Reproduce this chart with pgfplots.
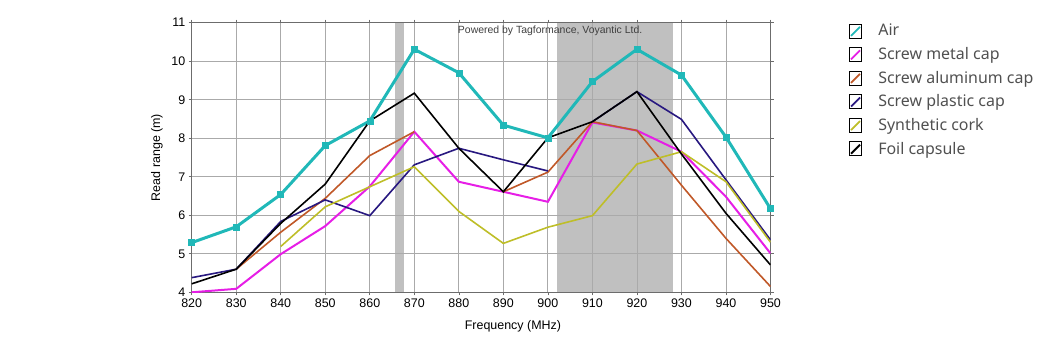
\documentclass[border=0pt]{standalone}
\usepackage{fontspec}
\setmainfont{Liberation Sans}
\newfontfamily\legfont{Noto Sans}
\usepackage{pgfplots}
\pgfplotsset{compat=1.18}
\definecolor{cAir}{RGB}{32,184,184}
\definecolor{cMetal}{RGB}{230,30,230}
\definecolor{cAlu}{RGB}{192,88,40}
\definecolor{cPlastic}{RGB}{40,24,128}
\definecolor{cCork}{RGB}{190,190,40}
\definecolor{cBand}{RGB}{192,192,192}
\definecolor{cGrid}{RGB}{170,170,170}
\definecolor{cText}{RGB}{80,80,80}
\begin{document}
\begin{tikzpicture}
\begin{axis}[name=ax, set layers, scale only axis,
  width=578.8bp, height=269.6bp,
  xmin=820, xmax=950, ymin=4, ymax=11,
  xtick={820,830,...,950}, ytick={4,5,...,11},
  grid=major, grid style={color=cGrid, line width=0.8bp},
  axis line style={color=gray!85!black, line width=0.8bp},
  tick align=outside, major tick length=3bp,
  tick style={color=gray!85!black, line width=0.6bp},
  /pgf/number format/assume math mode=true,
  /pgf/number format/set thousands separator={},
  ticklabel style={font=\fontsize{12.5}{14}\selectfont, text=black},
  xlabel={Frequency (MHz)}, ylabel={Read range (m)},
  label style={font=\fontsize{12.5}{14}\selectfont},
  xlabel style={at={(axis description cs:0.555,-0.092)}, anchor=north},
  ylabel style={at={(axis description cs:-0.06,0.5)}, anchor=center, rotate=0},
  unbounded coords=jump,
  legend style={at={(1.1305,1.008)}, anchor=north west, draw=none, fill=none,
    font=\legfont\fontsize{16}{18}\selectfont, text=cText,
    row sep=7bp, cells={anchor=west}, nodes={inner sep=1.5bp}},
  legend image code/.code={
    \draw[line width=1.8bp] (1.5bp,-5bp) -- (10.5bp,4bp);
    \draw[black, line width=0.6bp, solid] (0bp,-7bp) rectangle (12bp,7bp);
  },
  /tikz/every odd column/.style={column sep=15bp},
]
\addplot[fill=cBand, draw=none, on layer=axis background, forget plot]
  coordinates {(865.6,4) (867.6,4) (867.6,11) (865.6,11)} -- cycle;
\addplot[fill=cBand, draw=none, on layer=axis background, forget plot]
  coordinates {(902,4) (928,4) (928,11) (902,11)} -- cycle;

\addplot[cAir, line width=3bp, mark=square*, mark size=3bp, mark options={fill=cAir, line width=0.5bp}]
  coordinates {(820,5.29) (830,5.70) (840,6.54) (850,7.81) (860,8.45) (870,10.31) (880,9.70)
  (890,8.34) (900,8.01) (910,9.47) (920,10.31) (930,9.64) (940,8.03) (950,6.17)};
\addlegendentry{Air}
\addplot[cMetal, line width=2bp]
  coordinates {(820,4.00) (830,4.09) (840,4.99) (850,5.72) (860,6.75) (870,8.17) (880,6.87)
  (890,6.61) (900,6.35) (910,8.41) (920,8.20) (930,7.65) (940,6.48) (950,5.01)};
\addlegendentry{Screw metal cap}
\addplot[cAlu, line width=1.6bp]
  coordinates {(830,4.60) (840,5.56) (850,6.44) (860,7.55) (870,8.17) (880,nan)
  (890,6.61) (900,7.12) (910,8.43) (920,8.20) (930,6.78) (940,5.40) (950,4.15)};
\addlegendentry{Screw aluminum cap}
\addplot[cPlastic, line width=1.6bp]
  coordinates {(820,4.38) (830,4.60) (840,5.84) (850,6.40) (860,5.99) (870,7.31) (880,7.74)
  (890,7.44) (900,7.15) (905,nan) (910,8.43) (920,9.21) (930,8.49) (940,6.92) (950,5.36)};
\addlegendentry{Screw plastic cap}
\addplot[cCork, line width=1.6bp]
  coordinates {(840,5.19) (850,6.22) (860,6.74) (870,7.26) (880,6.10)
  (890,5.27) (900,5.69) (910,5.99) (920,7.33) (930,7.65) (940,6.87) (950,5.30)};
\addlegendentry{Synthetic cork}
\addplot[black, line width=1.6bp]
  coordinates {(820,4.22) (830,4.60) (840,5.79) (850,6.81) (860,8.45) (870,9.17) (880,7.74)
  (890,6.61) (900,8.01) (910,8.43) (920,9.21) (930,7.59) (940,6.05) (950,4.71)};
\addlegendentry{Foil capsule}
\node[anchor=north west, font=\fontsize{10.5}{12}\selectfont, text=black!75, inner sep=1bp]
  at (rel axis cs:0.458,0.993) {Powered by Tagformance, Voyantic Ltd.};
\end{axis}
\pgfresetboundingbox
\path[use as bounding box] ([xshift=-191.7bp,yshift=-50.7bp]ax.south west) rectangle ([xshift=287.5bp,yshift=22.7bp]ax.north east);
\end{tikzpicture}
\end{document}
